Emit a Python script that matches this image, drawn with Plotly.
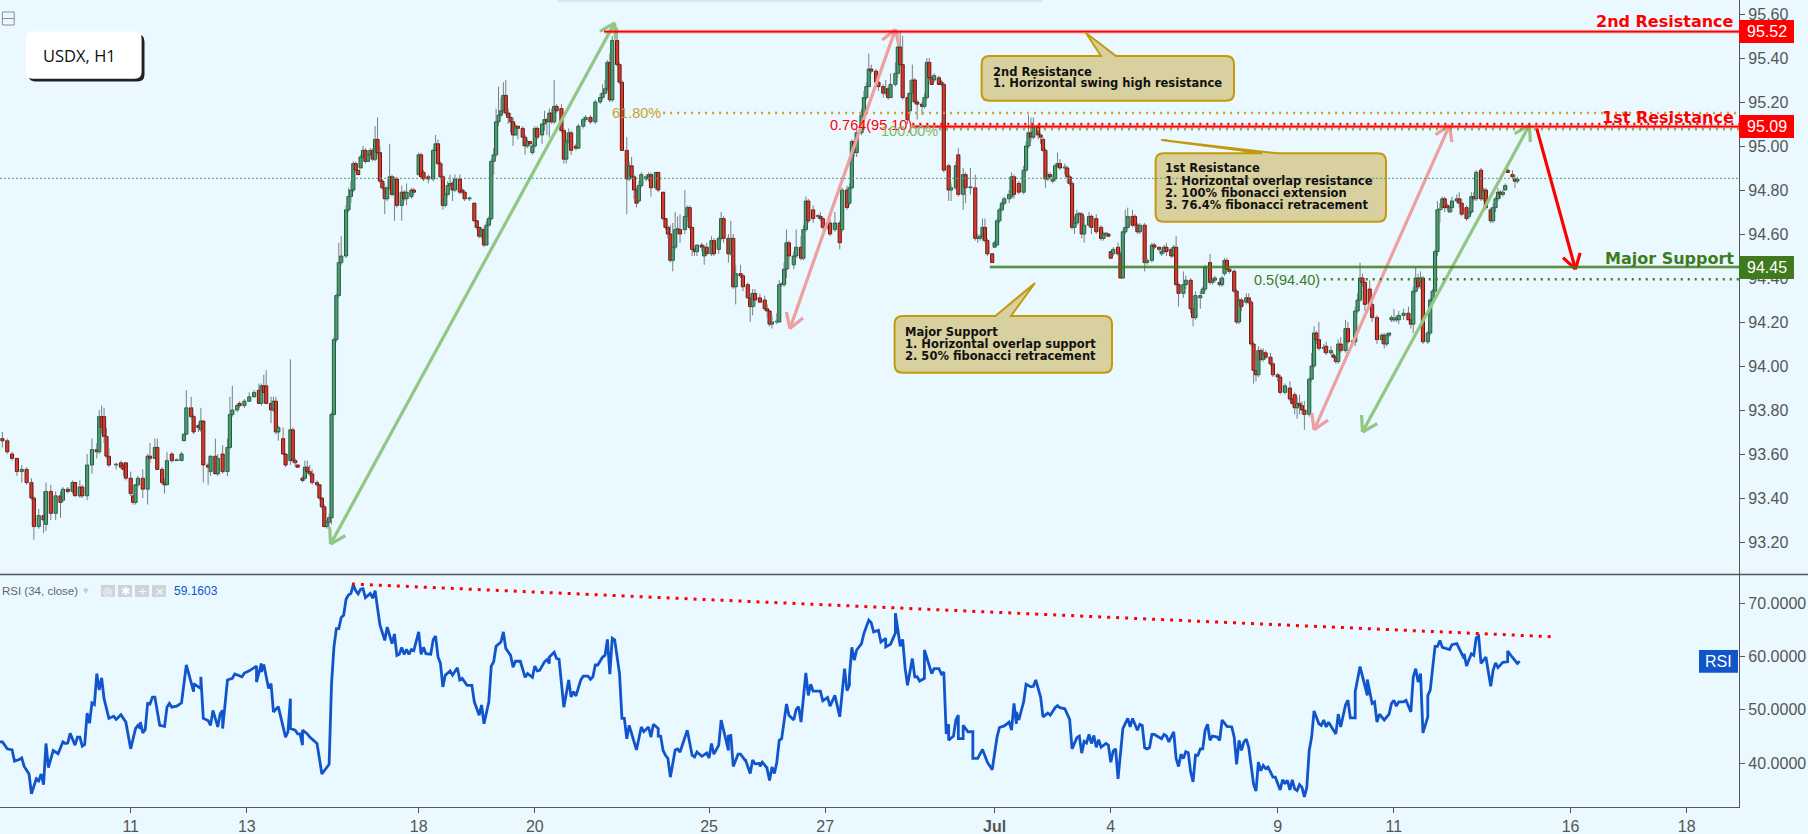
import math
import plotly.graph_objects as go

# hourly candles, x is the bar number counted from the left edge
bar_hours = [1,3,5,7,9,11,13,14,16,18,19,21,23,25,26,28,30,31,33,34,36,38,40,41,42,43,44,45,48,50,51,52,54,55,56,57,59,61,62,64,65,67,68,69,71,73,75,76,77,79,80,82,83,84,86,87,89,90,92,94,95,96,98,99,101,103,105,107,108,109,110,112,113,114,115,117,118,120,121,122,123,125,126,127,128,129,131,132,133,134,135,136,
 137,138,139,140,141,
 143,144,145,146,147,148,149,150,151,152,153,154,155,156,157,158,159,160,161,162,163,164,166,167,168,170,171,173,174,175,177,179,180,181,182,183,184,185,186,187,188,190,191,192,194,196,197,198,199,200,201,202,203,204,205,206,207,208,209,210,211,212,213,214,216,217,218,219,220,221,222,224,225,226,227,228,229,230,232,233,234,235,236,238,239,241,242,244,246,248,249,250,251,252,253,255,256,257,259,260,261,262,263,
 264,265,267,268,269,271,272,274,275,276,277,278,279,280,281,283,284,285,286,287,288,290,291,292,294,295,297,298,299,301,302,303,304,306,307,309,310,311,312,314,316,317,318,319,321,322,323,324,325,326,328,329,331,332,333,334,336,338,339,340,342,343,345,347,348,350,351,352,353,354,356,357,358,359,360,362,363,365,366,367,368,370,371,372,373,375,376,377,378,379,381,382,383,384,385,386,
 388,389,390,392,393,395,396,398,399,401,403,404,405,406,407,408,410,411,412,413,414,415,417,418,419,421,423,424,425,426,427,429,430,431,432,433,434,435,436,437,438,440,441,442,443,444,445,446,447,448,450,451,453,455,456,457,458,459,460,462,463,464,465,466,468,469,470,471,473,474,476,477,479,480,481,482,484,485,486,487,489,490,492,493,494,496,497,498,500,501,502,504,505,506,507,508,510,511,512,513,
 515,516,517,518,519,520,521,522,523,525,526,528,529,531,533,534,535,536,537,538,539,541,542,543,544,545,547,548,550,551,552,553,554,556,557,559,560,561,562,563,564,566,567,569,571,572,573,574,575,576,577,578,580,582,583,584,585,586,587,588,590,591,592,593,594,595,596,597,598,599,600,602,603,604,606,607,608,609,610,612,613,614,616,617,618,619,620,621,622,623,625,626,627]
opens = [93.67,93.66,93.60,93.58,93.52,93.53,93.47,93.40,93.27,93.32,93.28,93.43,93.33,93.41,93.39,93.44,93.43,93.47,93.41,93.45,93.41,93.55,93.62,93.61,93.77,93.77,93.68,93.59,93.55,93.56,93.55,93.56,93.49,93.41,93.38,93.46,93.49,93.44,93.59,93.58,93.63,93.53,93.47,93.46,93.60,93.57,93.57,93.66,93.69,93.81,93.77,93.73,93.71,93.75,93.55,93.52,93.59,93.51,93.60,93.52,93.63,93.78,93.80,93.83,93.82,93.84,93.86,93.89,93.83,93.91,93.91,93.83,93.80,93.84,93.70,93.67,93.60,93.57,93.71,93.57,93.55,93.49,93.49,93.54,93.52,93.51,93.47,93.46,93.40,93.36,93.27,93.29,
 93.31,93.78,94.12,94.32,94.47,
 94.50,94.71,94.77,94.80,94.92,94.89,94.90,94.95,94.98,94.93,94.96,94.98,94.94,95.03,94.97,94.84,94.81,94.76,94.81,94.86,94.78,94.85,94.73,94.79,94.76,94.77,94.80,94.87,94.96,94.88,94.86,94.85,94.98,95.01,94.92,94.86,94.73,94.78,94.82,94.83,94.80,94.85,94.80,94.79,94.76,94.74,94.66,94.63,94.59,94.62,94.55,94.64,94.67,94.93,94.96,95.11,95.14,95.16,95.23,95.15,95.13,95.11,95.05,95.09,95.08,95.04,95.00,95.02,94.97,95.00,95.08,95.05,95.10,95.12,95.11,95.15,95.11,95.18,95.17,95.07,94.94,95.02,95.06,95.00,94.99,95.09,95.12,95.13,95.11,95.20,95.22,95.24,95.26,95.38,95.21,95.48,95.37,95.29,94.98,94.85,94.91,94.86,94.80,
 94.75,94.82,94.85,94.86,94.87,94.81,94.88,94.79,94.67,94.63,94.60,94.48,94.54,94.62,94.62,94.62,94.68,94.72,94.63,94.53,94.52,94.55,94.50,94.54,94.51,94.57,94.53,94.58,94.67,94.58,94.51,94.58,94.36,94.42,94.41,94.37,94.31,94.27,94.33,94.31,94.30,94.26,94.25,94.19,94.20,94.20,94.37,94.37,94.44,94.56,94.46,94.50,94.54,94.49,94.62,94.75,94.71,94.68,94.68,94.67,94.63,94.65,94.62,94.65,94.62,94.80,94.74,94.81,95.02,94.97,95.06,95.14,95.22,95.27,95.35,95.34,95.29,95.27,95.24,95.26,95.22,95.28,95.33,95.45,95.37,95.22,95.16,95.24,95.30,95.20,95.19,95.18,95.22,95.38,95.31,95.30,
 95.31,95.29,95.28,94.91,94.80,94.81,94.96,94.78,94.87,94.81,94.81,94.58,94.58,94.59,94.63,94.57,94.51,94.54,94.55,94.66,94.71,94.74,94.76,94.77,94.86,94.83,94.79,94.89,95.00,95.06,95.04,95.09,95.05,95.03,94.98,94.85,94.87,94.84,94.85,94.91,94.92,94.90,94.90,94.86,94.83,94.63,94.65,94.69,94.69,94.60,94.64,94.68,94.67,94.63,94.58,94.60,94.60,94.52,94.51,94.54,94.51,94.40,94.61,94.63,94.68,94.68,94.64,94.61,94.64,94.47,94.48,94.55,94.54,94.51,94.52,94.54,94.53,94.50,94.54,94.37,94.33,94.37,94.39,94.26,94.22,94.31,94.33,94.35,94.47,94.38,94.39,94.38,94.37,94.42,94.48,94.44,94.43,94.34,94.20,94.30,
 94.29,94.31,94.29,94.10,93.98,93.96,94.07,94.03,94.06,94.04,94.01,93.96,93.95,93.88,93.90,93.85,93.87,93.81,93.83,93.82,93.80,93.78,93.94,94.00,94.15,94.12,94.08,94.09,94.06,94.05,94.04,94.02,94.10,94.07,94.17,94.11,94.11,94.25,94.30,94.40,94.38,94.35,94.28,94.22,94.12,94.14,94.10,94.14,94.21,94.21,94.21,94.21,94.23,94.24,94.21,94.19,94.34,94.40,94.38,94.40,94.11,94.15,94.30,94.34,94.52,94.71,94.72,94.76,94.73,94.70,94.72,94.75,94.76,94.74,94.72,94.68,94.70,94.77,94.76,94.89,94.76,94.80,94.71,94.66,94.72,94.76,94.79,94.78,94.80,94.89,94.87,94.85,94.84]
closes = [93.66,93.61,93.58,93.52,93.53,93.47,93.40,93.27,93.32,93.30,93.43,93.33,93.41,93.38,93.44,93.43,93.47,93.41,93.45,93.41,93.55,93.62,93.61,93.77,93.72,93.68,93.59,93.55,93.55,93.54,93.53,93.49,93.42,93.38,93.46,93.49,93.44,93.59,93.58,93.63,93.53,93.47,93.46,93.57,93.57,93.57,93.60,93.69,93.81,93.77,93.70,93.72,93.75,93.55,93.54,93.59,93.51,93.58,93.52,93.63,93.78,93.80,93.82,93.82,93.84,93.86,93.88,93.83,93.91,93.88,93.83,93.80,93.84,93.70,93.72,93.60,93.55,93.71,93.57,93.56,93.54,93.48,93.54,93.52,93.51,93.47,93.46,93.40,93.36,93.27,93.29,93.31,
 93.78,94.12,94.32,94.47,94.50,
 94.71,94.77,94.80,94.92,94.89,94.87,94.95,94.98,94.93,94.96,94.98,94.94,95.03,94.97,94.84,94.81,94.76,94.81,94.86,94.78,94.85,94.73,94.79,94.76,94.79,94.80,94.79,94.96,94.86,94.85,94.85,94.98,95.01,94.92,94.86,94.73,94.78,94.82,94.83,94.80,94.85,94.79,94.79,94.76,94.76,94.66,94.63,94.59,94.62,94.55,94.64,94.67,94.93,94.96,95.11,95.14,95.16,95.23,95.15,95.13,95.11,95.05,95.09,95.08,95.04,95.00,95.02,95.01,95.00,95.08,95.04,95.10,95.12,95.11,95.15,95.11,95.18,95.16,95.07,94.94,95.02,95.06,94.98,94.99,95.09,95.12,95.13,95.11,95.20,95.22,95.24,95.26,95.38,95.21,95.48,95.37,95.29,94.98,94.85,94.91,94.86,94.80,94.74,
 94.82,94.87,94.86,94.87,94.81,94.88,94.80,94.67,94.63,94.60,94.48,94.54,94.62,94.62,94.60,94.68,94.72,94.63,94.53,94.52,94.55,94.54,94.54,94.51,94.57,94.51,94.58,94.67,94.58,94.51,94.58,94.36,94.42,94.41,94.36,94.31,94.27,94.33,94.30,94.29,94.26,94.25,94.19,94.20,94.20,94.37,94.37,94.44,94.56,94.50,94.50,94.54,94.49,94.62,94.75,94.66,94.67,94.68,94.67,94.63,94.65,94.60,94.65,94.56,94.80,94.72,94.81,95.02,94.97,95.06,95.14,95.22,95.27,95.35,95.34,95.29,95.27,95.24,95.26,95.22,95.28,95.33,95.45,95.37,95.22,95.12,95.24,95.30,95.20,95.19,95.18,95.22,95.38,95.31,95.28,95.32,
 95.28,95.28,94.89,94.80,94.81,94.91,94.78,94.87,94.81,94.81,94.58,94.58,94.59,94.63,94.57,94.51,94.47,94.56,94.66,94.71,94.74,94.76,94.78,94.86,94.78,94.79,94.89,95.00,95.06,95.04,95.09,95.05,95.04,94.98,94.85,94.87,94.86,94.85,94.91,94.92,94.90,94.90,94.86,94.83,94.63,94.65,94.69,94.69,94.60,94.64,94.68,94.63,94.61,94.58,94.60,94.60,94.59,94.49,94.53,94.51,94.40,94.61,94.63,94.68,94.64,94.64,94.61,94.64,94.47,94.48,94.55,94.54,94.53,94.52,94.54,94.52,94.50,94.54,94.37,94.33,94.37,94.39,94.26,94.22,94.32,94.32,94.35,94.45,94.38,94.39,94.40,94.37,94.40,94.48,94.44,94.43,94.34,94.20,94.30,94.27,
 94.31,94.29,94.10,93.98,93.96,94.07,94.03,94.06,94.04,94.01,93.96,93.95,93.88,93.91,93.85,93.83,93.81,93.83,93.82,93.80,93.78,93.94,94.00,94.15,94.12,94.08,94.08,94.06,94.07,94.04,94.02,94.10,94.07,94.17,94.11,94.11,94.25,94.30,94.40,94.38,94.28,94.28,94.22,94.12,94.14,94.10,94.14,94.15,94.22,94.21,94.22,94.23,94.24,94.21,94.19,94.34,94.40,94.36,94.40,94.11,94.15,94.30,94.34,94.52,94.71,94.71,94.76,94.72,94.72,94.72,94.75,94.76,94.74,94.69,94.67,94.70,94.77,94.76,94.88,94.76,94.80,94.72,94.66,94.72,94.76,94.79,94.78,94.79,94.82,94.88,94.86,94.84,94.85]
highs = [93.70,93.67,93.61,93.58,93.55,93.54,93.49,93.41,93.35,93.43,93.47,93.46,93.43,93.43,93.45,93.45,93.48,93.47,93.48,93.46,93.60,93.67,93.65,93.80,93.82,93.81,93.72,93.63,93.56,93.57,93.56,93.56,93.52,93.42,93.46,93.50,93.53,93.60,93.65,93.67,93.67,93.54,93.49,93.61,93.61,93.58,93.61,93.69,93.89,93.86,93.78,93.74,93.81,93.75,93.56,93.59,93.67,93.60,93.64,93.67,93.86,93.91,93.83,93.84,93.85,93.88,93.89,93.92,93.92,93.96,93.98,93.86,93.86,93.86,93.73,93.72,93.60,94.03,93.72,93.58,93.55,93.50,93.57,93.57,93.55,93.53,93.48,93.46,93.40,93.37,93.30,93.33,
 93.79,94.13,94.33,94.56,94.59,
 94.73,94.81,94.84,94.93,94.93,94.89,94.96,95.00,94.99,94.98,94.99,94.99,95.09,95.13,95.00,94.85,94.83,94.81,95.01,94.87,94.86,94.86,94.82,94.80,94.83,94.81,94.81,94.97,94.97,94.89,94.87,94.99,95.05,95.03,94.93,94.87,94.79,94.84,94.87,94.84,94.87,94.87,94.81,94.80,94.77,94.74,94.66,94.63,94.63,94.63,94.66,94.68,94.94,94.99,95.17,95.27,95.22,95.29,95.30,95.17,95.15,95.13,95.10,95.09,95.09,95.05,95.03,95.02,95.01,95.09,95.09,95.10,95.16,95.13,95.17,95.17,95.30,95.19,95.19,95.08,95.03,95.08,95.07,95.01,95.10,95.13,95.14,95.14,95.21,95.24,95.28,95.30,95.39,95.42,95.50,95.54,95.38,95.30,95.04,94.93,94.95,94.87,94.81,
 94.84,94.88,94.87,94.88,94.88,94.88,94.88,94.79,94.67,94.64,94.64,94.65,94.70,94.68,94.69,94.80,94.73,94.73,94.63,94.54,94.55,94.56,94.55,94.56,94.59,94.58,94.59,94.70,94.68,94.60,94.66,94.60,94.46,94.46,94.42,94.38,94.33,94.35,94.35,94.33,94.32,94.28,94.25,94.23,94.24,94.39,94.38,94.47,94.62,94.57,94.52,94.62,94.59,94.64,94.77,94.76,94.73,94.69,94.70,94.68,94.67,94.67,94.70,94.66,94.81,94.82,94.83,95.03,95.03,95.08,95.17,95.25,95.29,95.42,95.37,95.35,95.30,95.28,95.30,95.27,95.33,95.38,95.52,95.52,95.50,95.24,95.30,95.37,95.31,95.21,95.20,95.24,95.40,95.40,95.32,95.33,
 95.32,95.30,95.29,94.92,94.83,94.93,94.99,94.90,94.88,94.90,94.87,94.60,94.60,94.67,94.67,94.58,94.51,94.57,94.67,94.72,94.75,94.77,94.80,94.88,94.87,94.84,94.91,95.02,95.14,95.13,95.13,95.10,95.06,95.04,94.99,94.88,94.88,94.86,94.92,94.97,94.94,94.92,94.91,94.87,94.84,94.68,94.71,94.70,94.70,94.68,94.70,94.69,94.69,94.64,94.61,94.61,94.60,94.52,94.54,94.56,94.52,94.62,94.71,94.72,94.71,94.69,94.65,94.65,94.65,94.49,94.56,94.56,94.54,94.53,94.55,94.56,94.54,94.55,94.59,94.38,94.43,94.41,94.40,94.27,94.34,94.34,94.36,94.46,94.51,94.40,94.41,94.40,94.41,94.49,94.49,94.44,94.44,94.35,94.31,94.31,
 94.33,94.33,94.30,94.11,94.03,94.09,94.08,94.08,94.07,94.06,94.02,93.97,93.96,93.92,93.93,93.86,93.88,93.86,93.87,93.84,93.84,93.95,94.06,94.18,94.16,94.20,94.10,94.11,94.09,94.06,94.05,94.12,94.13,94.21,94.20,94.12,94.27,94.33,94.47,94.42,94.39,94.39,94.29,94.23,94.15,94.15,94.15,94.15,94.23,94.26,94.23,94.25,94.26,94.27,94.22,94.36,94.45,94.42,94.43,94.41,94.16,94.31,94.35,94.53,94.75,94.74,94.77,94.77,94.74,94.73,94.77,94.78,94.79,94.76,94.73,94.71,94.79,94.79,94.89,94.90,94.81,94.81,94.72,94.74,94.77,94.81,94.80,94.80,94.83,94.91,94.89,94.87,94.86]
lows = [93.63,93.60,93.57,93.50,93.47,93.46,93.39,93.21,93.26,93.24,93.25,93.30,93.30,93.31,93.38,93.42,93.42,93.41,93.40,93.40,93.39,93.51,93.58,93.60,93.69,93.65,93.58,93.54,93.53,93.53,93.50,93.48,93.41,93.37,93.37,93.45,93.40,93.37,93.56,93.58,93.53,93.46,93.42,93.46,93.56,93.57,93.57,93.66,93.69,93.76,93.69,93.70,93.70,93.47,93.46,93.50,93.51,93.50,93.51,93.50,93.62,93.77,93.79,93.81,93.81,93.84,93.86,93.83,93.82,93.88,93.83,93.74,93.79,93.69,93.66,93.60,93.54,93.55,93.56,93.54,93.54,93.47,93.48,93.51,93.50,93.46,93.45,93.39,93.35,93.27,93.26,93.26,
 93.28,93.77,94.11,94.31,94.46,
 94.49,94.70,94.74,94.79,94.88,94.87,94.90,94.95,94.92,94.93,94.95,94.93,94.93,94.96,94.83,94.80,94.69,94.75,94.80,94.77,94.66,94.72,94.66,94.75,94.73,94.76,94.78,94.87,94.86,94.84,94.83,94.84,94.98,94.91,94.85,94.71,94.72,94.77,94.81,94.75,94.79,94.78,94.78,94.75,94.75,94.66,94.62,94.58,94.58,94.54,94.55,94.63,94.66,94.87,94.95,95.09,95.13,95.15,95.14,95.10,95.06,95.00,95.05,95.03,95.00,94.96,94.99,95.01,94.96,94.99,95.03,95.01,95.07,95.05,95.04,95.10,95.10,95.15,95.06,94.92,94.92,95.01,94.96,94.98,94.99,95.08,95.11,95.10,95.10,95.19,95.21,95.23,95.25,95.20,95.20,95.36,95.28,94.98,94.69,94.84,94.85,94.76,94.72,
 94.74,94.81,94.84,94.84,94.77,94.80,94.79,94.66,94.62,94.58,94.47,94.43,94.53,94.60,94.56,94.60,94.66,94.62,94.50,94.50,94.50,94.52,94.46,94.50,94.50,94.50,94.51,94.57,94.56,94.47,94.50,94.35,94.28,94.40,94.34,94.31,94.20,94.23,94.27,94.29,94.25,94.22,94.18,94.17,94.19,94.20,94.36,94.36,94.40,94.44,94.44,94.49,94.48,94.48,94.61,94.65,94.65,94.67,94.66,94.62,94.62,94.59,94.61,94.53,94.61,94.71,94.73,94.80,94.95,94.95,95.05,95.12,95.21,95.27,95.33,95.28,95.25,95.22,95.23,95.21,95.22,95.27,95.31,95.36,95.21,95.10,95.14,95.20,95.19,95.12,95.14,95.17,95.21,95.30,95.28,95.29,
 95.28,95.27,94.88,94.75,94.75,94.80,94.77,94.71,94.74,94.78,94.57,94.56,94.57,94.57,94.56,94.50,94.47,94.54,94.55,94.65,94.70,94.73,94.74,94.76,94.76,94.78,94.78,94.88,94.99,95.02,95.03,95.03,95.01,94.97,94.81,94.84,94.85,94.83,94.84,94.90,94.89,94.87,94.83,94.82,94.62,94.60,94.64,94.68,94.58,94.56,94.63,94.60,94.60,94.57,94.57,94.59,94.59,94.49,94.50,94.50,94.40,94.40,94.60,94.62,94.63,94.63,94.60,94.60,94.43,94.46,94.47,94.53,94.52,94.50,94.51,94.50,94.49,94.50,94.36,94.27,94.31,94.35,94.24,94.18,94.21,94.26,94.33,94.34,94.37,94.37,94.38,94.36,94.36,94.41,94.43,94.42,94.33,94.19,94.19,94.25,
 94.28,94.28,94.09,93.92,93.93,93.95,94.02,94.02,94.03,94.00,93.95,93.93,93.87,93.87,93.84,93.82,93.78,93.76,93.78,93.78,93.71,93.77,93.93,93.99,94.10,94.07,94.06,94.05,94.05,94.04,94.01,94.01,94.06,94.06,94.10,94.10,94.09,94.24,94.29,94.36,94.25,94.26,94.20,94.10,94.10,94.08,94.09,94.13,94.20,94.20,94.20,94.19,94.21,94.21,94.17,94.15,94.33,94.35,94.35,94.10,94.10,94.14,94.29,94.33,94.50,94.65,94.71,94.70,94.71,94.70,94.70,94.74,94.72,94.68,94.66,94.67,94.69,94.75,94.75,94.75,94.75,94.71,94.65,94.65,94.70,94.75,94.76,94.77,94.80,94.88,94.85,94.81,94.83]

# RSI(34) line, bar number and value
rsi_hours = [0,1,3,5,6,8,9,10,12,13,
 15,16,17,18,19,20,22,24,26,27,
 28,29,31,32,33,34,35,36,37,38,
 39,40,41,42,43,45,47,48,50,52,
 54,56,57,58,58,59,60,61,62,63,
 64,66,68,69,70,71,73,75,77,80,
 80,83,83,84,86,87,88,90,91,92,
 92,94,96,97,100,101,103,106,106,108,
 108,109,111,112,113,115,118,119,120,120,
 122,123,124,125,125,127,128,131,133,135,
 136,137,138,139,140,141,142,143,144,145,
 146,147,148,149,150,151,153,154,155,157,
 159,160,162,163,164,165,166,167,168,169,
 170,171,173,174,175,176,178,179,180,181,
 182,183,184,186,187,189,190,191,193,195,
 196,198,199,200,202,203,204,205,207,208,
 209,211,212,213,215,217,218,220,221,222,
 223,225,226,227,227,229,230,231,233,235,
 236,237,238,240,241,243,244,245,246,247,
 249,250,
 251,252,253,254,256,257,258,259,260,263,
 265,266,268,269,270,272,272,273,274,275,
 276,277,279,280,281,284,286,287,288,290,
 292,293,294,295,297,298,301,301,302,303,
 305,306,308,308,310,311,312,314,314,315,
 317,317,318,319,320,321,322,323,325,326,
 328,329,330,331,333,334,335,336,339,340,
 342,343,345,347,349,350,351,351,352,353,
 354,356,357,359,360,361,363,364,366,366,
 368,370,370,372,373,374,375,377,378,379,
 380,382,382,385,386,388,389,390,391,392,
 392,394,395,396,396,398,398,400,402,402,
 404,406,408,410,412,413,415,417,418,419,
 420,420,421,423,424,426,427,428,430,431,
 433,434,436,437,438,440,442,443,445,446,
 447,448,449,450,451,452,453,454,455,457,
 458,459,460,461,462,464,466,467,468,470,
 471,472,473,474,475,476,477,479,480,481,
 482,483,485,486,487,488,489,490,491,492,
 493,494,495,496,497,498,499,500,501,503,
 504,
 505,507,509,510,511,512,513,514,515,516,
 518,519,520,521,522,523,524,526,527,529,
 530,531,532,533,534,535,536,537,538,539,
 540,541,542,543,545,546,547,548,549,550,
 552,553,554,556,557,558,560,560,562,565,
 565,567,568,569,570,572,574,575,576,577,
 578,580,581,583,584,585,586,587,588,590,
 590,591,593,594,595,596,599,600,602,605,
 605,606,608,609,610,611,612,614,615,616,
 617,618,619,621,623,623,625,627,628]
rsi_values = [44.0,44.0,42.7,42.5,40.4,40.7,41.0,39.4,38.0,34.3,
 37.1,36.7,38.0,36.0,43.7,39.2,42.4,41.8,44.0,43.7,
 43.8,45.6,43.4,44.9,44.9,43.2,43.5,49.4,47.5,51.3,
 51.0,56.8,53.7,56.0,52.1,48.4,48.8,48.2,49.1,47.7,
 42.7,46.5,47.1,46.5,47.7,45.7,46.3,51.2,51.1,52.4,
 52.4,47.1,46.9,50.5,51.2,50.5,50.7,51.3,58.4,53.4,
 54.9,54.0,56.2,48.4,48.0,47.1,49.9,46.8,49.3,49.9,
 46.5,55.6,55.9,56.7,56.2,56.9,57.3,58.2,55.2,58.7,
 57.1,58.5,54.0,54.9,49.6,50.6,44.9,45.9,52.1,46.5,
 46.2,45.5,45.5,43.4,46.2,45.5,44.9,43.7,38.0,39.3,
 39.8,54.9,61.8,65.2,65.2,67.3,67.7,70.7,71.5,71.8,
 73.4,72.3,71.7,72.6,72.7,71.0,71.8,70.9,72.3,65.9,
 63.0,65.5,62.4,64.2,60.2,60.4,61.7,60.4,61.3,60.4,
 61.3,61.1,64.6,60.4,61.7,60.5,60.4,63.1,63.8,59.9,
 58.7,54.3,56.5,57.3,56.5,57.9,55.6,55.9,54.6,54.6,
 51.5,49.0,50.9,47.4,51.5,58.2,59.0,61.9,62.7,64.6,
 61.5,60.2,58.0,59.1,59.1,56.1,56.8,56.1,58.2,57.3,
 57.4,59.0,59.4,58.7,59.9,60.8,59.6,59.5,50.5,55.6,
 52.4,53.4,52.6,55.6,56.3,56.3,55.7,56.2,58.4,58.4,
 59.9,60.2,
 63.2,56.7,63.4,63.1,56.8,48.4,48.4,44.6,47.1,42.5,
 46.8,45.9,46.8,44.9,47.3,46.5,45.1,45.1,42.4,41.5,
 40.9,37.4,42.5,42.7,42.1,46.2,41.5,41.2,42.1,41.3,
 41.9,41.0,43.7,41.7,43.4,48.1,42.4,45.1,45.2,39.4,
 41.7,41.7,40.5,40.7,38.1,40.6,39.9,40.0,39.4,40.2,
 39.1,38.9,36.8,39.3,38.1,40.2,44.3,44.6,51.1,49.0,
 48.1,50.1,50.6,47.7,56.9,52.7,54.8,53.5,53.5,51.7,
 52.3,50.7,52.7,48.7,57.7,53.6,54.6,56.2,61.7,59.3,
 61.2,62.4,64.3,66.8,66.3,64.6,64.9,62.7,63.4,61.8,
 62.3,64.4,68.1,61.9,63.2,57.9,54.6,59.6,56.2,56.2,
 55.4,55.9,61.2,56.8,57.7,57.7,56.7,57.1,45.5,47.3,
 44.3,45.1,48.1,49.0,44.6,44.6,47.1,45.9,45.9,40.9,
 40.9,42.6,40.2,38.8,44.9,46.7,47.0,47.7,46.2,51.2,
 47.4,49.6,48.1,51.5,54.8,54.3,54.4,55.6,52.4,48.7,
 49.4,49.0,50.4,50.8,50.4,50.2,48.2,42.7,44.8,45.1,
 41.9,44.1,43.8,45.4,43.7,45.2,43.0,44.4,43.0,43.7,
 43.4,40.2,42.3,42.7,37.1,46.5,48.4,46.8,48.4,46.2,
 47.3,47.1,42.9,42.7,42.9,45.4,45.4,44.9,44.6,45.4,
 45.1,44.0,45.9,40.9,39.4,41.7,40.9,42.2,42.0,38.4,
 36.5,41.5,41.5,42.7,42.7,46.2,47.3,44.3,45.1,44.9,
 44.3,
 48.1,46.9,46.8,44.9,39.8,44.3,42.4,44.0,44.5,43.0,
 36.1,34.8,40.2,38.6,39.6,39.0,39.3,37.4,37.4,35.0,
 36.9,36.3,36.8,35.0,36.9,35.2,34.9,36.0,35.5,33.7,
 35.5,42.4,44.9,49.8,47.4,47.1,48.1,46.8,47.7,47.0,
 45.5,49.2,46.8,50.9,51.8,48.5,48.5,53.4,58.1,52.7,
 55.7,51.2,51.5,47.7,49.2,48.1,49.2,51.2,51.8,50.7,
 51.5,51.5,51.8,49.6,56.2,57.7,55.2,56.8,45.7,48.7,
 52.7,53.7,61.9,61.9,63.0,61.7,61.3,62.2,62.4,59.6,
 60.5,58.2,60.5,60.2,63.5,63.8,58.7,59.9,56.8,54.4,
 57.4,58.8,57.9,58.9,59.0,61.0,59.8,58.7,59.1]

price_ticks = [95.60,95.40,95.20,95.00,94.80,94.60,94.40,94.20,94.00,93.80,93.60,93.40,93.20]
rsi_ticks = [70,60,50,40]
day_hours = [54,102,173,221,293,341,411,459,528,576,649,697]
day_labels = ['11','13','18','20','25','27','<b>Jul</b>','4','9','11','16','18']

assert len(bar_hours) == len(opens) == len(closes) == len(highs) == len(lows), (len(bar_hours), len(opens), len(closes), len(highs), len(lows))
assert len(rsi_hours) == len(rsi_values), (len(rsi_hours), len(rsi_values))

W, H = 1808, 834
AXIS_X = 1739
BAR_PX = 2.42
PRICE_PX = 220
BG = '#E9F9FF'
GREY = '#555555'
BOX_FILL = '#D9D09F'
BOX_LINE = '#C49A0C'
RED = '#FF0000'
GREEN = '#3F7A1E'
BLUE = '#1155CC'

X_END = AXIS_X / BAR_PX
PRICE_TOP = 95 + 146 / PRICE_PX
PRICE_BOTTOM = 95 - (574 - 146) / PRICE_PX
RSI_TOP = 70 + (603 - 574) / 5.34
RSI_BOTTOM = 40 - (807 - 763.3) / 5.34


def px(x):
    return x / W


def py(y):
    return 1 - y / H


fig = go.Figure()

# candle bodies as floating bars, plotly's candlestick body can't be made wide enough at this spacing
body_top = [max(o, c) for o, c in zip(opens, closes)]
body_bottom = [min(o, c) for o, c in zip(opens, closes)]
body_size = [max(t - b, 0.004) for t, b in zip(body_top, body_bottom)]
fig.add_trace(go.Bar(x=bar_hours, y=body_size, base=body_bottom, width=1.3, name='USDX',
                     marker=dict(color=['#4F9C74' if c >= o else '#D8392B' for o, c in zip(opens, closes)],
                                 line=dict(color=['#1F5C3E' if c >= o else '#641A12' for o, c in zip(opens, closes)], width=1))))

# grey wicks only outside the bodies
wick_x, wick_y = [], []
for h, hi, lo, t, b in zip(bar_hours, highs, lows, body_top, body_bottom):
    wick_x += [h, h, None, h, h, None]
    wick_y += [hi, t, None, b, lo, None]
fig.add_trace(go.Scatter(x=wick_x, y=wick_y, mode='lines', name='wicks', line=dict(color='#7A7F80', width=1)))

fig.add_trace(go.Scatter(x=rsi_hours, y=rsi_values, mode='lines', name='RSI', yaxis='y2',
                         line=dict(color=BLUE, width=2.8)))
fig.add_trace(go.Scatter(x=[145.4, 641], y=[73.56, 63.69], mode='lines', yaxis='y2',
                         line=dict(color=RED, width=3, dash='3px,6px')))


def add_arrow(x0, y0, x1, y1, color, double=True):
    xs, ys = [x0, x1], [y0, y1]
    tips = [(x1, y1, x0, y0)]
    if double:
        tips.append((x0, y0, x1, y1))
    for tx, ty, fx, fy in tips:
        ang = math.atan2((fy - ty) * PRICE_PX, (fx - tx) * BAR_PX)
        for side in (-0.55, 0.55):
            bx = tx + 17 * math.cos(ang + side) / BAR_PX
            by = ty + 17 * math.sin(ang + side) / PRICE_PX
            xs += [None, tx, bx]
            ys += [None, ty, by]
    fig.add_trace(go.Scatter(x=xs, y=ys, mode='lines', line=dict(color=color, width=3.2)))


add_arrow(136.6, 93.19, 254, 95.56, '#93C683')
add_arrow(326.4, 94.17, 370, 95.53, '#EE9F9F')
add_arrow(543, 93.71, 599, 95.095, '#EE9F9F')
add_arrow(563, 93.70, 632, 95.095, '#93C683')
add_arrow(635, 95.08, 651, 94.44, RED, double=False)

shapes = []
notes = []


def level(y, x0, color, width=2, dash=None, halo=None):
    if halo:
        shapes.append(dict(type='line', xref='x', yref='y', x0=x0, x1=X_END, y0=y, y1=y,
                           line=dict(color=halo, width=width + 2)))
    shapes.append(dict(type='line', xref='x', yref='y', x0=x0, x1=X_END, y0=y, y1=y,
                       line=dict(color=color, width=width, dash=dash)))


def text(x, y, s, color='#111111', size=11.5, anchor='left', family='DejaVu Sans', bold=False):
    # annotations carry about 2px of padding
    if anchor == 'left':
        x -= 2
    elif anchor == 'right':
        x += 2
    notes.append(dict(xref='paper', yref='paper', x=px(x), y=py(y), text=f'<b>{s}</b>' if bold else s,
                      showarrow=False, xanchor=anchor, yanchor='middle',
                      font=dict(color=color, size=size, family=family)))


def rect(x0, y0, x1, y1, fill, line=None):
    shapes.append(dict(type='rect', xref='paper', yref='paper', x0=px(x0), x1=px(x1), y0=py(y0), y1=py(y1),
                       fillcolor=fill, line=dict(width=0 if line is None else 1, color=line or fill)))


def rounded(x0, y0, x1, y1, r, fill, line, width=2, tail=None):
    p = [f'M {px(x0 + r)} {py(y0)}']
    if tail:
        p += [f'L {px(tail[0])} {py(y0)}', f'L {px(tail[2])} {py(tail[3])}', f'L {px(tail[1])} {py(y0)}']
    p += [f'L {px(x1 - r)} {py(y0)}', f'Q {px(x1)} {py(y0)} {px(x1)} {py(y0 + r)}',
          f'L {px(x1)} {py(y1 - r)}', f'Q {px(x1)} {py(y1)} {px(x1 - r)} {py(y1)}',
          f'L {px(x0 + r)} {py(y1)}', f'Q {px(x0)} {py(y1)} {px(x0)} {py(y1 - r)}',
          f'L {px(x0)} {py(y0 + r)}', f'Q {px(x0)} {py(y0)} {px(x0 + r)} {py(y0)}', 'Z']
    shapes.append(dict(type='path', xref='paper', yref='paper', path=' '.join(p), fillcolor=fill,
                       line=dict(color=line, width=width)))


# fib levels and horizontals
level(95.15, 274, '#C9A227', width=2.4, dash='2px,5px')
level(95.10, 377, RED, width=2.4, dash='2px,5px')
level(95.076, 388, '#7DB765', width=2.4, dash='2px,5px')
level(94.394, 547, GREEN, width=2.4, dash='2px,5px')
level(95.52, 249.6, RED, width=1.6, halo='rgba(255,0,0,0.3)')
level(95.088, 377, RED, width=1.6, halo='rgba(255,0,0,0.3)')
level(94.45, 409, GREEN, width=1.6, halo='rgba(63,122,30,0.35)')

# callouts
rounded(981.6, 56, 1234, 100.7, 8, BOX_FILL, BOX_LINE, tail=(1101, 1116, 1086, 33))
rounded(894.6, 316, 1112, 372.7, 8, BOX_FILL, BOX_LINE, tail=(995.4, 1011, 1035, 283))
rounded(1155.6, 153.3, 1386, 221.7, 8, BOX_FILL, BOX_LINE, tail=(1262, 1277.5, 1161.5, 140))
text(992.7, 71.7, '2nd Resistance', bold=True)
text(992.7, 83.3, '1. Horizontal swing high resistance', bold=True)
text(904.5, 331.7, 'Major Support', bold=True)
text(904.5, 343.5, '1. Horizontal overlap support', bold=True)
text(904.5, 355.7, '2. 50% fibonacci retracement', bold=True)
text(1165.4, 168.5, '1st Resistance', bold=True)
text(1165.4, 180.7, '1. Horizontal overlap resistance', bold=True)
text(1165.4, 192.7, '2. 100% fibonacci extension', bold=True)
text(1165.4, 204.5, '3. 76.4% fibonacci retracement', bold=True)

# last price line runs over the callout
shapes.append(dict(type='line', xref='x', yref='y', x0=0, x1=X_END, y0=94.853, y1=94.853,
                   line=dict(color='#5A9A78', width=1, dash='2px,2px')))

# fib labels
text(612, 113, '61.80%', color='#C9A227', size=14.5, family='Liberation Sans')
text(830, 125, '0.764(95.10)', color=RED, size=14.5, family='Liberation Sans')
text(881, 131, '100.00%', color='#7DB765', size=14.5, family='Liberation Sans')
text(1254, 280, '0.5(94.40)', color=GREEN, size=14.5, family='Liberation Sans')

# level names and price tags
text(1734, 22, '2nd Resistance', color=RED, size=16, anchor='right', bold=True)
text(1734, 117, '1st Resistance', color=RED, size=16, anchor='right', bold=True)
text(1734, 258, 'Major Support', color=GREEN, size=16, anchor='right', bold=True)
for y0, tag, col in [(20, '95.52', RED), (115, '95.09', RED), (256, '94.45', GREEN)]:
    rect(AXIS_X, y0, 1794, y0 + 23, col)
    text(1766.5, y0 + 11.5, tag, color='white', size=16, anchor='center', family='Liberation Sans')
rect(1699, 650, 1738, 672.7, BLUE)
text(1718.5, 661.5, 'RSI', color='white', size=16, anchor='center', family='Liberation Sans')

# title card
rounded(28.5, 34.5, 144.5, 81.5, 7, '#222222', '#222222', width=0)
rounded(25.7, 31.4, 141.6, 78.8, 7, 'white', 'white', width=0)
text(42.7, 55.5, 'USDX, H1', size=16.5, family='Open Sans')

# collapse button, faint bar along the top edge, panel separator
rect(557, 0, 1043, 2, '#DCE6EB')
shapes.append(dict(type='rect', xref='paper', yref='paper', x0=px(2.4), x1=px(14.2), y0=py(12), y1=py(25),
                   line=dict(color='#8A8F92', width=1)))
shapes.append(dict(type='line', xref='paper', yref='paper', x0=px(2.4), x1=px(14.2), y0=py(18.5), y1=py(18.5),
                   line=dict(color='#8A8F92', width=1)))
shapes.append(dict(type='line', xref='paper', yref='paper', x0=0, x1=1, y0=py(574.5), y1=py(574.5),
                   line=dict(color=GREY, width=1.3)))

# RSI panel header
text(2.4, 591, 'RSI (34, close)', color='#666666', size=11.5, family='Liberation Sans')
text(83, 590, '▾', color='#C4CCD0', size=11)
for x0, glyph in [(101, '◎'), (118, '✱'), (135, '+'), (152, '×')]:
    rect(x0, 585, x0 + 14, 597, '#CDD5DA')
    text(x0 + 7, 591, glyph, color='white', size=11, anchor='center')
text(174, 591, '59.1603', color=BLUE, size=12, family='Liberation Sans')

fig.update_layout(
    width=W, height=H, margin=dict(l=0, r=0, t=0, b=0), autosize=False,
    paper_bgcolor=BG, plot_bgcolor=BG, showlegend=False, barmode='overlay',
    font=dict(family='Liberation Sans', size=16, color=GREY),
    xaxis=dict(domain=[0, AXIS_X / W], range=[0, X_END], anchor='y2',
               tickmode='array', tickvals=day_hours, ticktext=day_labels, showgrid=False, zeroline=False,
               showline=True, linecolor=GREY, linewidth=1.3, ticks='outside', ticklen=5, tickcolor=GREY),
    yaxis=dict(domain=[1 - 574 / H, 1], range=[PRICE_BOTTOM, PRICE_TOP], side='right', anchor='x',
               tickmode='array', tickvals=price_ticks, tickformat='.2f', showgrid=False, zeroline=False,
               showline=True, linecolor=GREY, linewidth=1.3, ticks='outside', ticklen=5, tickcolor=GREY),
    yaxis2=dict(domain=[1 - 807 / H, 1 - 574 / H], range=[RSI_BOTTOM, RSI_TOP], side='right', anchor='x',
                tickmode='array', tickvals=rsi_ticks, tickformat='.4f', showgrid=False, zeroline=False,
                showline=True, linecolor=GREY, linewidth=1.3, ticks='outside', ticklen=5, tickcolor=GREY),
    shapes=shapes, annotations=notes,
)

fig.write_html("out.html", config={'displayModeBar': False}, post_script="document.body.style.margin='0'")
